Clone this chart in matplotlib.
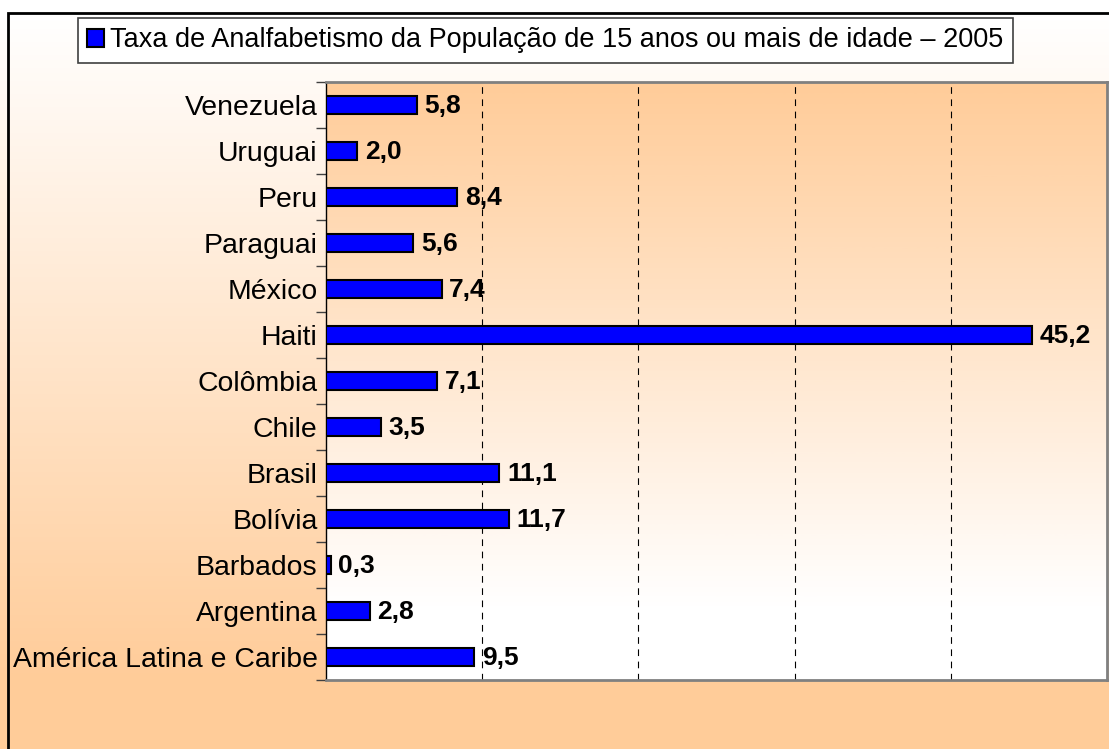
"""Taxa de analfabetismo 2005 - horizontal bar chart."""

import matplotlib

matplotlib.use("Agg")
import matplotlib.pyplot as plt
import numpy as np
from matplotlib.colors import LinearSegmentedColormap
from matplotlib.patches import Rectangle

plt.rcParams["font.family"] = ["Liberation Sans", "DejaVu Sans"]

countries = [
    "América Latina e Caribe",
    "Argentina",
    "Barbados",
    "Bolívia",
    "Brasil",
    "Chile",
    "Colômbia",
    "Haiti",
    "México",
    "Paraguai",
    "Peru",
    "Uruguai",
    "Venezuela",
]
rates = [9.5, 2.8, 0.3, 11.7, 11.1, 3.5, 7.1, 45.2, 7.4, 5.6, 8.4, 2.0, 5.8]
legend_label = "Taxa de Analfabetismo da População de 15 anos ou mais de idade – 2005"

ORANGE = "#FFCC99"
W, H = 1109, 749

fig = plt.figure(figsize=(W / 100, H / 100), dpi=100)

# outer background: white at top fading to orange near the bottom
bg = fig.add_axes([0, 0, 1, 1], zorder=-2)
bg.axis("off")
outer_cmap = LinearSegmentedColormap.from_list("outer", ["white", ORANGE])
rows = np.arange(H, dtype=float)
grad = np.clip((rows - 13) / (680 - 13), 0, 1)[:, None]
bg.imshow(grad, cmap=outer_cmap, aspect="auto", extent=(0, 1, 0, 1), origin="upper",
          vmin=0, vmax=1)
bg.set_xlim(0, 1)
bg.set_ylim(0, 1)
bg.add_patch(Rectangle((8 / W, -0.1), 1.2, 1.1 - 13 / H, fill=False,
                       edgecolor="black", linewidth=2, transform=bg.transAxes))

# plot area
left, right, top, bottom = 326, 1107, 82, 680
ax = fig.add_axes([left / W, 1 - bottom / H, (right - left) / W, (bottom - top) / H])
inner_cmap = LinearSegmentedColormap.from_list("inner", [ORANGE, "white"])
t = np.linspace(0, 1, 400)
inner = np.clip(t / 0.88, 0, 1)[:, None]
ax.imshow(inner, cmap=inner_cmap, aspect="auto", extent=(0, 50, -0.5, 12.5),
          origin="upper", vmin=0, vmax=1, zorder=0)

y = np.arange(len(countries))
ax.barh(y, rates, height=0.4, color="#0000FF", edgecolor="black", linewidth=1.5,
        zorder=3, label=legend_label)

for yi, v in zip(y, rates):
    ax.annotate(f"{v:.1f}".replace(".", ","), (v, yi), xytext=(5.5, -1),
                textcoords="offset points", va="center", ha="left",
                fontsize=19, fontweight="bold", zorder=4)

ax.set_xlim(0, 50)
ax.set_ylim(-0.5, 12.5)
for gx in [10, 20, 30, 40]:
    ax.axvline(gx, color="black", linewidth=0.8, linestyle=(0, (6, 5)), zorder=2)

ax.set_xticks([])
ax.set_yticks(y)
ax.set_yticklabels(countries, fontsize=20.4)
ax.set_yticks(np.arange(-0.5, 13, 1), minor=True)
ax.tick_params(axis="y", which="major", length=0, pad=6)
ax.tick_params(axis="y", which="minor", length=7, width=1, color="#404040")

for side in ["top", "right", "bottom"]:
    ax.spines[side].set_color("#808080")
    ax.spines[side].set_linewidth(2)
ax.spines["left"].set_color("black")
ax.spines["left"].set_linewidth(1)

leg = fig.legend(loc="upper left", bbox_to_anchor=(78 / W, 1 - 18 / H),
                 fontsize=19.5, frameon=True, fancybox=False, framealpha=1,
                 edgecolor="#404040", handlelength=0.6, handleheight=0.6,
                 handletextpad=0.25, borderpad=0.35, borderaxespad=0)
leg.get_frame().set_linewidth(1.2)

fig.savefig("out.png", dpi=100)
